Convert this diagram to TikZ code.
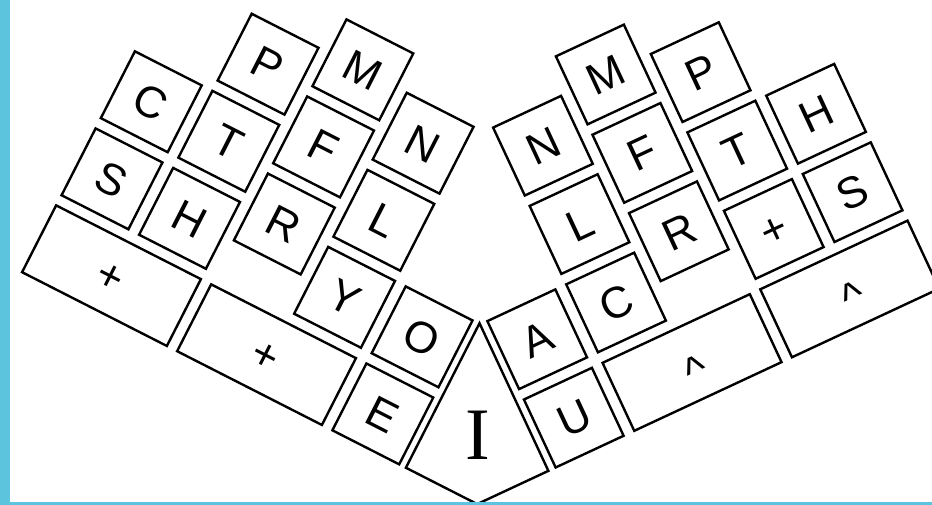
\documentclass[tikz,border=0pt]{standalone}
\usepackage{fontspec}
\setmainfont{Liberation Sans}
\newfontfamily\thumbfont{Liberation Serif}
\definecolor{edgeblue}{RGB}{93,196,221}
\newcommand{\hatkey}{\raisebox{-9pt}{\textasciicircum}}

\begin{document}
\begin{tikzpicture}[
  x=1pt, y=1pt,
  key/.style={rectangle, draw, line width=2.4pt, minimum size=75pt, inner sep=0pt,
    font=\fontsize{44}{44}\selectfont, text height=31.5pt, text depth=0pt, transform shape},
  widekey/.style={key, minimum width=162.5pt},
  keyline/.style={draw, line width=2.4pt, line join=miter}
]
\useasboundingbox (0,0) rectangle (932,-505);
\clip (0,0) rectangle (932,-505);
\fill[white] (0,0) rectangle (932,-505);

% left hand
\begin{scope}[rotate=-27]
\node[key] (lP) at (268,64.5) {P};
\node[key] (lM) at (355,102.5) {M};
\node[key] (lN) at (442,64.5) {N};
\node[key] (lC) at (181,-22) {C};
\node[key] (lT) at (268,-22) {T};
\node[key] (lF) at (355,16) {F};
\node[key] (lL) at (442,-22) {L};
\node[key] (lS) at (181,-108.5) {S};
\node[key] (lH) at (268,-108.5) {H};
\node[key] (lR) at (355,-70.5) {R};
\node[key] (lY) at (442,-108.5) {Y};
\node[key] (lO) at (529,-108.5) {O};
\node[widekey] (lPlusA) at (224.5,-195) {+};
\node[widekey] (lPlusB) at (398.5,-195) {+};
\node[key] (lE) at (529,-195) {E};
\coordinate (Ila) at (574,0);
\coordinate (Ilb) at (574,-232.5);
\coordinate (Ilc) at (653.5,-232.5);
\end{scope}

% right hand
\begin{scope}[rotate=25]
\node[key] (rN) at (430.5,-361.5) {N};
\node[key] (rM) at (517.5,-323.5) {M};
\node[key] (rP) at (604.5,-361.5) {P};
\node[key] (rL) at (430.5,-448) {L};
\node[key] (rF) at (517.5,-410) {F};
\node[key] (rT) at (604.5,-448) {T};
\node[key] (rH) at (691.5,-448) {H};
\node[key] (rA) at (343.5,-534.5) {A};
\node[key] (rC) at (430.5,-534.5) {C};
\node[key] (rR) at (517.5,-496.5) {R};
\node[key] (rPlus) at (604.5,-534.5) {+};
\node[key] (rS) at (691.5,-534.5) {S};
\node[key] (rU) at (343.5,-621) {U};
\node[widekey] (rHatA) at (474,-621) {\hatkey};
\node[widekey] (rHatB) at (648,-621) {\hatkey};
\coordinate (Ira) at (298,-400);
\coordinate (Irb) at (298,-658.5);
\coordinate (Irc) at (219,-658.5);
\end{scope}

% thumb key
\coordinate (Itop) at (intersection of Ila--Ilb and Ira--Irb);
\coordinate (Ibot) at (intersection of Ilb--Ilc and Irb--Irc);
\draw[keyline] (Itop) -- (Ilb) -- (Ibot) -- (Irb) -- cycle;
\node[inner sep=0pt, font=\thumbfont\fontsize{74}{74}\selectfont] (kI) at (478,-435) {I};

% frame
\fill[edgeblue] (0,0) rectangle (10,-505);
\fill[edgeblue] (0,-502) rectangle (932,-505);
\end{tikzpicture}
\end{document}
